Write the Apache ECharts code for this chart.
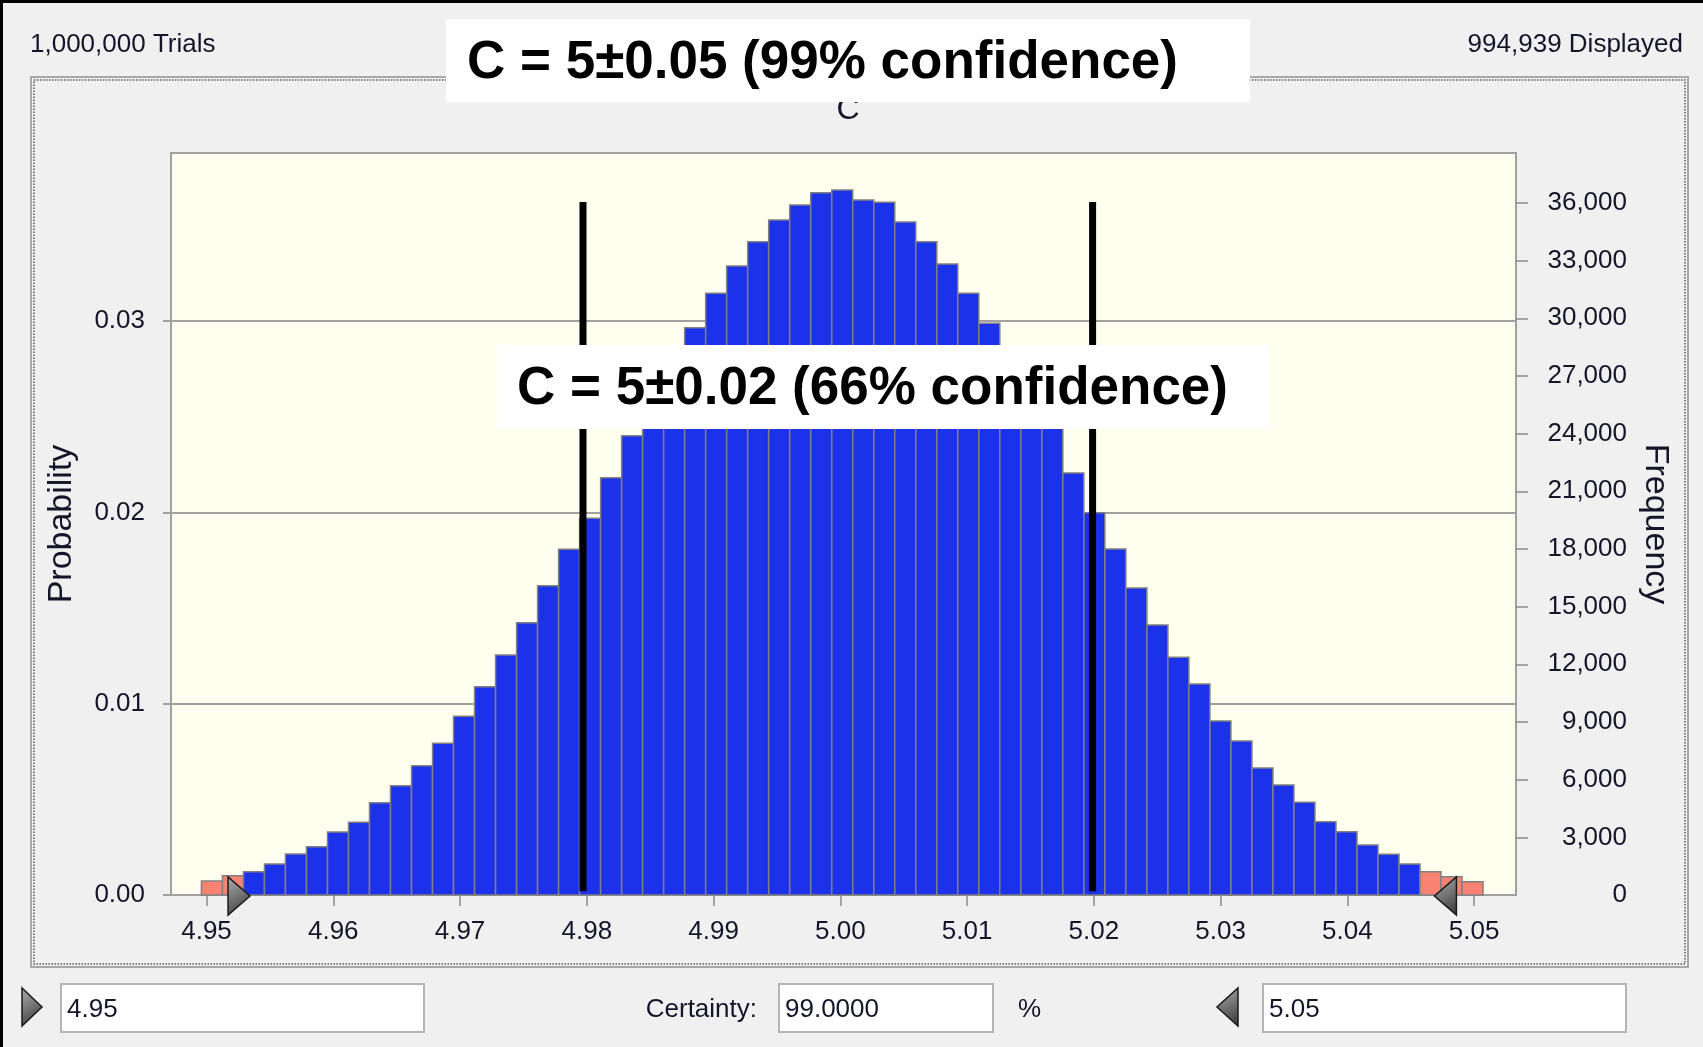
<!DOCTYPE html>
<html>
<head>
<meta charset="utf-8">
<script src="https://cdn.jsdelivr.net/npm/echarts@6/dist/echarts.min.js"></script>
<style>
html,body{margin:0;padding:0;background:#F0F0F0;}
#chart{width:1703px;height:1047px;}
</style>
</head>
<body>
<div id="chart"></div>
<script>
// ---------- data ----------
const frequencies = [
  728, 1004, 1214, 1613, 2133, 2514, 3277, 3780, 4803, 5688,
  6728, 7890, 9294, 10838, 12485, 14167, 16092, 17982, 19594, 21710,
  23894, 25900, 27800, 29512, 31300, 32721, 33985, 35114, 35894, 36535,
  36674, 36154, 36033, 35009, 33985, 32825, 31300, 29740, 28100, 26300,
  24350, 21950, 19889, 17999, 15970, 14045, 12363, 10976, 9051, 8011,
  6607, 5722, 4820, 3815, 3295, 2601, 2115, 1613, 1214, 954, 693
];
const binMin = 4.9496;
const binMax = 5.0507;
const salmonBins = [0, 1, 58, 59, 60];
const xTicks = [4.95, 4.96, 4.97, 4.98, 4.99, 5.00, 5.01, 5.02, 5.03, 5.04, 5.05];
const probTicks = [0, 0.01, 0.02, 0.03];
const freqTicks = [0, 3000, 6000, 9000, 12000, 15000, 18000, 21000, 24000, 27000, 30000, 33000, 36000];
const xRange = [4.9472, 5.0533];
const freqMax = 38600;
const totalTrials = 1000000;
const totalDisplayed = 994939;
const confidenceLines = [4.9797, 5.0199];
const confidenceSpan = [200, 36050];
const grabbers = [4.9517, 5.0486];
const lowerValue = '4.95';
const upperValue = '5.05';
const certainty = '99.0000';
const chartTitle = 'C';
const annotations = ['C = 5\u00B10.05 (99% confidence)', 'C = 5\u00B10.02 (66% confidence)'];

// ---------- build ----------
const binWidth = (binMax - binMin) / frequencies.length;
const barData = frequencies.map((f, i) => [
  binMin + i * binWidth, binMin + (i + 1) * binWidth, f, salmonBins.indexOf(i) >= 0 ? 1 : 0
]);
const lineData = confidenceLines.map(x => [x, confidenceSpan[0], confidenceSpan[1]]);
const grabData = grabbers.map((x, i) => [x, i]);

const FONT = '"Liberation Sans", Arial, sans-serif';
const TXT = '#15152A';
const GRIDC = '#A0A0A0';
const grabFill = () => new echarts.graphic.LinearGradient(0, 0, 1, 1, [
  {offset: 0, color: '#AFAFAF'}, {offset: 1, color: '#333333'}
]);

const chart = echarts.init(document.getElementById('chart'), null, {renderer: 'canvas'});

chart.setOption({
  backgroundColor: '#F0F0F0',
  animation: false,
  title: {
    text: chartTitle, left: 843, top: 89, textAlign: 'center',
    textStyle: {fontFamily: FONT, fontSize: 32, fontWeight: 'normal', color: TXT}
  },
  grid: {
    left: 171, right: 187, top: 153, bottom: 152, show: true,
    backgroundColor: '#FFFFF0', borderColor: GRIDC, borderWidth: 2
  },
  xAxis: {
    type: 'value', min: xRange[0], max: xRange[1],
    axisLine: {show: true, lineStyle: {color: GRIDC, width: 2}},
    axisTick: {show: true, length: 11, lineStyle: {color: '#8A8A8A', width: 1.5}, customValues: xTicks},
    axisLabel: {customValues: xTicks, margin: 24, fontFamily: FONT, fontSize: 26, color: TXT,
      formatter: v => v.toFixed(2)},
    splitLine: {show: false}
  },
  yAxis: [
    {
      type: 'value', position: 'left', min: 0, max: freqMax / totalDisplayed,
      name: 'Probability', nameLocation: 'middle', nameGap: 92,
      nameTextStyle: {fontFamily: FONT, fontSize: 34, color: TXT},
      axisLine: {show: false},
      axisTick: {show: true, length: 8, lineStyle: {color: GRIDC, width: 2}, customValues: probTicks},
      axisLabel: {customValues: probTicks, margin: 26, fontFamily: FONT, fontSize: 26, color: TXT,
        formatter: v => v.toFixed(2)},
      splitLine: {show: true, lineStyle: {color: GRIDC, width: 2}}
    },
    {
      type: 'value', position: 'right', min: 0, max: freqMax,
      name: 'Frequency', nameLocation: 'middle', nameGap: 122, nameRotate: -90,
      nameTextStyle: {fontFamily: FONT, fontSize: 34, color: TXT},
      axisLine: {show: false},
      axisTick: {show: true, length: 12, lineStyle: {color: '#8A8A8A', width: 1.5}, customValues: freqTicks.slice(1)},
      axisLabel: {customValues: freqTicks, margin: 111, align: 'right', fontFamily: FONT, fontSize: 26, color: TXT,
        padding: [4, 0, 0, 0], formatter: v => v.toLocaleString('en-US')},
      splitLine: {show: false}
    }
  ],
  series: [
    {
      type: 'custom', name: 'bars', xAxisIndex: 0, yAxisIndex: 1,
      data: barData, encode: {x: [0, 1], y: 2}, z: 2,
      renderItem: (params, api) => {
        const p0 = api.coord([api.value(0), api.value(2)]);
        const p1 = api.coord([api.value(1), 0]);
        return {
          type: 'rect',
          shape: {x: p0[0], y: p0[1], width: p1[0] - p0[0], height: p1[1] - p0[1]},
          style: {fill: api.value(3) ? '#F98272' : '#1B32EA', stroke: '#808080', lineWidth: 1.5}
        };
      }
    },
    {
      type: 'custom', name: 'confidence', xAxisIndex: 0, yAxisIndex: 1,
      data: lineData, encode: {x: 0, y: [1, 2]}, z: 5,
      renderItem: (params, api) => {
        const a = api.coord([api.value(0), api.value(2)]);
        const b = api.coord([api.value(0), api.value(1)]);
        return {type: 'rect', shape: {x: a[0] - 3.5, y: a[1], width: 7, height: b[1] - a[1]}, style: {fill: '#000'}};
      }
    },
    {
      type: 'custom', name: 'grabbers', xAxisIndex: 0, yAxisIndex: 1,
      data: grabData, encode: {x: 0}, z: 6, clip: false,
      renderItem: (params, api) => {
        const p = api.coord([api.value(0), 0]);
        const dir = api.value(1) === 0 ? 1 : -1;
        const x0 = p[0], yc = p[1] + 1;
        return {
          type: 'polygon',
          shape: {points: [[x0, yc - 19], [x0, yc + 19], [x0 + dir * 22, yc]]},
          style: {fill: grabFill(), stroke: '#1A1A1A', lineWidth: 1.5}
        };
      }
    }
  ],
  graphic: [
    // window frame
    {type: 'rect', shape: {x: 0, y: 0, width: 1703, height: 3}, style: {fill: '#000'}, z: 50},
    {type: 'rect', shape: {x: 0, y: 0, width: 3, height: 1047}, style: {fill: '#000'}, z: 50},
    {type: 'rect', shape: {x: 31, y: 77, width: 1657, height: 890}, style: {fill: null, stroke: '#A8A8A8', lineWidth: 2}, z: 1},
    {type: 'rect', shape: {x: 34, y: 80, width: 1651, height: 884}, style: {fill: null, stroke: '#555', lineWidth: 1.5, lineDash: [1.5, 1.5]}, z: 1},
    // header texts
    {type: 'text', x: 30, y: 45, style: {text: totalTrials.toLocaleString('en-US') + ' Trials', font: '26px ' + FONT, fill: TXT, textVerticalAlign: 'middle'}, z: 50},
    {type: 'text', x: 1683, y: 45, style: {text: totalDisplayed.toLocaleString('en-US') + ' Displayed', font: '26px ' + FONT, fill: TXT, textAlign: 'right', textVerticalAlign: 'middle'}, z: 50},
    // annotation boxes
    {type: 'rect', shape: {x: 446, y: 19, width: 804, height: 83}, style: {fill: '#FFFFFF'}, z: 60},
    {type: 'text', x: 467, y: 63, style: {text: annotations[0], font: 'bold 53px ' + FONT, fill: '#000', textVerticalAlign: 'middle'}, z: 61},
    {type: 'rect', shape: {x: 497, y: 345, width: 772, height: 84}, style: {fill: '#FFFFFF'}, z: 60},
    {type: 'text', x: 517, y: 389, style: {text: annotations[1], font: 'bold 53px ' + FONT, fill: '#000', textVerticalAlign: 'middle'}, z: 61},
    // bottom controls
    {type: 'polygon', shape: {points: [[22, 988], [22, 1026], [42, 1007]]}, style: {fill: grabFill(), stroke: '#1A1A1A', lineWidth: 1.5}, z: 50},
    {type: 'rect', shape: {x: 61, y: 984, width: 363, height: 48}, style: {fill: '#FFFFFF', stroke: '#B4B4B4', lineWidth: 2}, z: 50},
    {type: 'text', x: 67, y: 1010, style: {text: lowerValue, font: '26px ' + FONT, fill: TXT, textVerticalAlign: 'middle'}, z: 51},
    {type: 'text', x: 757, y: 1010, style: {text: 'Certainty:', font: '26px ' + FONT, fill: TXT, textAlign: 'right', textVerticalAlign: 'middle'}, z: 51},
    {type: 'rect', shape: {x: 779, y: 984, width: 214, height: 48}, style: {fill: '#FFFFFF', stroke: '#B4B4B4', lineWidth: 2}, z: 50},
    {type: 'text', x: 785, y: 1010, style: {text: certainty, font: '26px ' + FONT, fill: TXT, textVerticalAlign: 'middle'}, z: 51},
    {type: 'text', x: 1018, y: 1010, style: {text: '%', font: '26px ' + FONT, fill: TXT, textVerticalAlign: 'middle'}, z: 51},
    {type: 'polygon', shape: {points: [[1238, 988], [1238, 1026], [1217, 1007]]}, style: {fill: grabFill(), stroke: '#1A1A1A', lineWidth: 1.5}, z: 50},
    {type: 'rect', shape: {x: 1263, y: 984, width: 363, height: 48}, style: {fill: '#FFFFFF', stroke: '#B4B4B4', lineWidth: 2}, z: 50},
    {type: 'text', x: 1269, y: 1010, style: {text: upperValue, font: '26px ' + FONT, fill: TXT, textVerticalAlign: 'middle'}, z: 51}
  ]
});
</script>
</body>
</html>
